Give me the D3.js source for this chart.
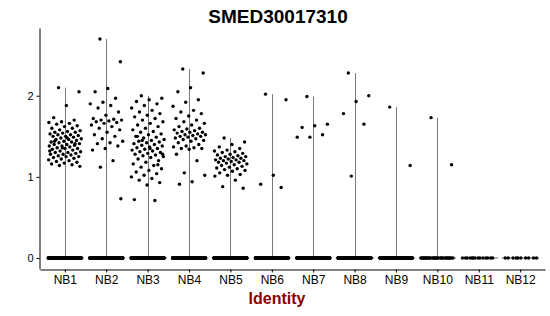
<!DOCTYPE html>
<html>
<head>
<meta charset="utf-8">
<script src="https://cdn.jsdelivr.net/npm/d3@7"></script>
<style>
  body { margin: 0; background: #fff; }
  text { font-family: "Liberation Sans", Arial, sans-serif; }
  .axis path, .axis line { stroke: #000; }
  .axis text { fill: #000; font-size: 11px; }
</style>
</head>
<body>
<div id="chart"></div>
<script>
// clusters and expression values (non-zero cells)
const clusters = ['NB1', 'NB2', 'NB3', 'NB4', 'NB5', 'NB6', 'NB7', 'NB8', 'NB9', 'NB10', 'NB11', 'NB12'];
const zeroCounts = [300, 300, 300, 300, 300, 280, 280, 280, 130, 30, 14, 10];
const yTicks = [0, 1, 2];

const nb1 = [2.1, 2.05, 1.88, 1.73, 1.70, 1.68, 1.67, 1.66, 1.65, 1.63, 1.62, 1.60, 1.60, 1.58, 1.57, 1.56, 1.55, 1.55, 1.54, 1.53,
  1.52, 1.52, 1.51, 1.50, 1.50, 1.49, 1.48, 1.47, 1.46, 1.46, 1.45, 1.44, 1.43, 1.43, 1.42, 1.41, 1.40, 1.40, 1.39, 1.38,
  1.38, 1.37, 1.36, 1.35, 1.35, 1.34, 1.33, 1.32, 1.31, 1.30, 1.30, 1.29, 1.28, 1.28, 1.27, 1.26, 1.25, 1.25, 1.24, 1.23,
  1.22, 1.21, 1.20, 1.19, 1.18, 1.17, 1.16, 1.15, 1.14, 1.13, 1.48, 1.44, 1.41, 1.36, 1.32];
const nb2 = [2.7, 2.42, 2.09, 2.05, 1.97, 1.92, 1.9, 1.88, 1.85, 1.8, 1.76, 1.72, 1.71, 1.70, 1.70, 1.69, 1.68, 1.67, 1.66, 1.64,
  1.62, 1.60, 1.58, 1.55, 1.52, 1.50, 1.47, 1.44, 1.42, 1.41, 1.38, 1.35, 1.33, 1.2, 1.12, 0.73];
const nb3 = [2.0, 1.97, 1.95, 1.93, 1.9, 1.88, 1.85, 1.82, 1.8, 1.78, 1.76, 1.74, 1.72, 1.7, 1.68, 1.66, 1.64, 1.62, 1.6, 1.58,
  1.56, 1.55, 1.53, 1.52, 1.5, 1.49, 1.48, 1.46, 1.45, 1.44, 1.43, 1.42, 1.41, 1.40, 1.39, 1.38, 1.37, 1.36, 1.35, 1.34,
  1.33, 1.32, 1.31, 1.30, 1.29, 1.28, 1.27, 1.26, 1.25, 1.24, 1.22, 1.20, 1.18, 1.16, 1.14, 1.12, 1.10, 1.08, 1.06, 1.04,
  1.02, 1.0, 0.98, 0.96, 0.93, 0.90, 0.72, 0.71, 1.45, 1.28, 1.35, 1.5, 1.15];
const nb4 = [2.33, 2.28, 2.1, 2.05, 1.95, 1.92, 1.87, 1.82, 1.8, 1.78, 1.75, 1.72, 1.7, 1.68, 1.66, 1.64, 1.62, 1.6, 1.59, 1.58,
  1.57, 1.56, 1.55, 1.55, 1.54, 1.53, 1.52, 1.52, 1.51, 1.50, 1.50, 1.49, 1.48, 1.47, 1.46, 1.45, 1.44, 1.42, 1.40, 1.38,
  1.37, 1.36, 1.35, 1.35, 1.34, 1.28, 1.2, 1.05, 1.02, 0.94, 0.91];
const nb5 = [1.48, 1.43, 1.40, 1.37, 1.35, 1.33, 1.32, 1.31, 1.30, 1.29, 1.28, 1.27, 1.26, 1.25, 1.25, 1.24, 1.23, 1.23, 1.22, 1.21,
  1.21, 1.20, 1.20, 1.19, 1.18, 1.18, 1.17, 1.16, 1.15, 1.14, 1.13, 1.12, 1.11, 1.10, 1.09, 1.08, 1.07, 1.05, 1.03, 1.02,
  1.01, 0.96, 0.88, 0.86];
const nb6 = [2.02, 1.95, 1.02, 0.91, 0.87];
const nb7 = [1.99, 1.65, 1.63, 1.61, 1.52, 1.49, 1.49];
const nb8 = [2.28, 2.0, 1.93, 1.78, 1.65, 1.01];
const nb9 = [1.86, 1.14];
const nb10 = [1.73, 1.15];
const nb11 = [];
const nb12 = [];
const values = [nb1, nb2, nb3, nb4, nb5, nb6, nb7, nb8, nb9, nb10, nb11, nb12];

const width = 550, height = 316;
const margin = { left: 40, right: 545, top: 28, bottom: 269 };

const svg = d3.select('#chart').append('svg').attr('width', width).attr('height', height);

const maxV = d3.max(values.flat());
const pad = maxV * 0.05;
const x = d3.scalePoint().domain(clusters).range([margin.left, margin.right]).padding(0.6);
const y = d3.scaleLinear().domain([-pad, maxV + pad]).range([margin.bottom, margin.top]);
const step = x.step();

// violins: all but flat, so a stem up to the max and a base line at zero
const violins = svg.append('g');
clusters.forEach((c, i) => {
  const cx = Math.round(x(c)) + 0.5;
  violins.append('line')
    .attr('x1', cx - step * 0.45).attr('x2', cx + step * 0.45)
    .attr('y1', y(0)).attr('y2', y(0))
    .attr('stroke', '#444').attr('stroke-width', 0.8);
  if (values[i].length) {
    violins.append('line')
      .attr('x1', cx).attr('x2', cx)
      .attr('y1', y(0)).attr('y2', y(d3.max(values[i])))
      .attr('stroke', '#555').attr('stroke-width', 0.8);
  }
});

// jittered points (deterministic jitter, width 0.4)
const jitter = (j, seed) => ((j * 0.618034 + seed) % 1) * 2 - 1;
const pts = [];
clusters.forEach((c, i) => {
  values[i].forEach((v, j) => pts.push({ c, v, dx: jitter(j, 0.31) * 0.4 }));
  for (let j = 0; j < zeroCounts[i]; j++) pts.push({ c, v: 0, dx: jitter(j, 0.13 * i) * 0.4 });
});

svg.append('g').selectAll('circle').data(pts).join('circle')
  .attr('cx', d => x(d.c) + d.dx * step)
  .attr('cy', d => y(d.v))
  .attr('r', 1.7)
  .attr('fill', '#000');

// axes
svg.append('g').attr('class', 'axis')
  .attr('transform', `translate(${margin.left - 0.5},0)`)
  .call(d3.axisLeft(y).tickValues(yTicks).tickSize(3).tickSizeOuter(0).tickPadding(3).tickFormat(d3.format('d')));

svg.append('g').attr('class', 'axis')
  .attr('transform', `translate(0,${margin.bottom + 0.5})`)
  .call(d3.axisBottom(x).tickSize(3).tickSizeOuter(0).tickPadding(3))
  .selectAll('text').style('font-size', '12px');

// title and axis label
svg.append('text').attr('x', 278).attr('y', 23).attr('text-anchor', 'middle')
  .style('font-size', '19px').style('font-weight', 'bold').text('SMED30017310');
svg.append('text').attr('x', 277).attr('y', 304).attr('text-anchor', 'middle')
  .style('font-size', '16px').style('font-weight', 'bold').attr('fill', '#8b0000').text('Identity');
</script>
</body>
</html>
